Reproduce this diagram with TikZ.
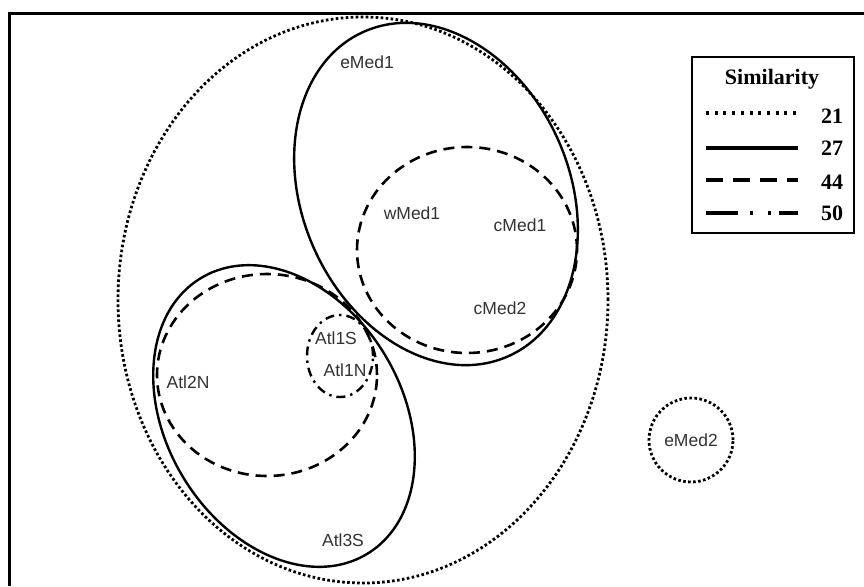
\documentclass[tikz,border=0pt]{standalone}
\usepackage{fontspec}
\setmainfont{Liberation Sans}
\newfontfamily\legendfont{Liberation Serif}
\begin{document}
\begin{tikzpicture}[x=1pt,y=1pt,
 lab/.style={font=\fontsize{17.5}{17.5}\selectfont, text=black!80, inner sep=0pt},
 legtext/.style={font=\legendfont\bfseries\fontsize{22}{22}\selectfont, inner sep=0pt},
 dotline/.style={line width=2.8pt, dash pattern=on 2.6pt off 2.4pt},
 solidline/.style={line width=2.4pt},
 dashline/.style={line width=2.6pt, dash pattern=on 11pt off 7pt},
 dashdotline/.style={line width=2.4pt, dash pattern=on 9pt off 5pt on 2.4pt off 5pt},
 legdot/.style={line width=3.2pt, dash pattern=on 3pt off 5.7pt},
 legsolid/.style={line width=3.2pt},
 legdash/.style={line width=3.2pt, dash pattern=on 17pt off 10pt},
 legdashdot/.style={line width=3.2pt, dash pattern=on 32pt off 12pt on 3pt off 15pt on 3pt off 8pt on 22pt off 10pt},
]
\useasboundingbox (0,-586) rectangle (864,0);
\fill[white] (0,-586) rectangle (864,0);
% frame (cropped at right and bottom)
\draw[line width=3pt] (9,-586) -- (9,-14) -- (864,-14);

% clusters
\draw[dotline] (363,-300) ellipse (245 and 283);
\draw[solidline, rotate around={24:(436,-194)}] (436,-194) ellipse (133.6 and 177.6);
\draw[dashline] (467,-250) ellipse (110 and 103);
\draw[solidline, rotate around={31:(284,-416)}] (284,-416) ellipse (118 and 161);
\draw[dashline] (267,-375) ellipse (110 and 101);
\draw[dashdotline] (340,-356) ellipse (33 and 41);

% labels
\node[lab] (emed1) at (367,-62) {eMed1};
\node[lab] (wmed1) at (412,-213) {wMed1};
\node[lab] (cmed1) at (520,-225) {cMed1};
\node[lab] (cmed2) at (500,-308) {cMed2};
\node[lab] (atl1s) at (336,-338) {Atl1S};
\node[lab] (atl1n) at (345,-370) {Atl1N};
\node[lab] (atl2n) at (188,-382) {Atl2N};
\node[lab] (atl3s) at (343,-540) {Atl3S};
\node[lab, dotline, draw=black, circle, minimum size=84pt] (emed2) at (691,-440) {eMed2};

% legend
\node[draw, line width=2.2pt, minimum width=162pt, minimum height=176pt, inner sep=0pt] (legbox) at (773,-145) {};
\node[legtext] (legtitle) at (772,-79) {Similarity};
\coordinate (l1a) at (706,-113); \coordinate (l1b) at (798,-113);
\coordinate (l2a) at (706,-148); \coordinate (l2b) at (798,-148);
\coordinate (l3a) at (706,-180); \coordinate (l3b) at (798,-180);
\coordinate (l4a) at (706,-213); \coordinate (l4b) at (798,-213);
\draw[legdot] (l1a) -- (l1b);
\draw[legsolid] (l2a) -- (l2b);
\draw[legdash] (l3a) -- (l3b);
\draw[legdashdot] (l4a) -- (l4b);
\node[legtext] (n21) at (832,-116) {21};
\node[legtext] (n27) at (832,-148) {27};
\node[legtext] (n44) at (832,-182) {44};
\node[legtext] (n50) at (832,-213) {50};
\end{tikzpicture}
\end{document}
